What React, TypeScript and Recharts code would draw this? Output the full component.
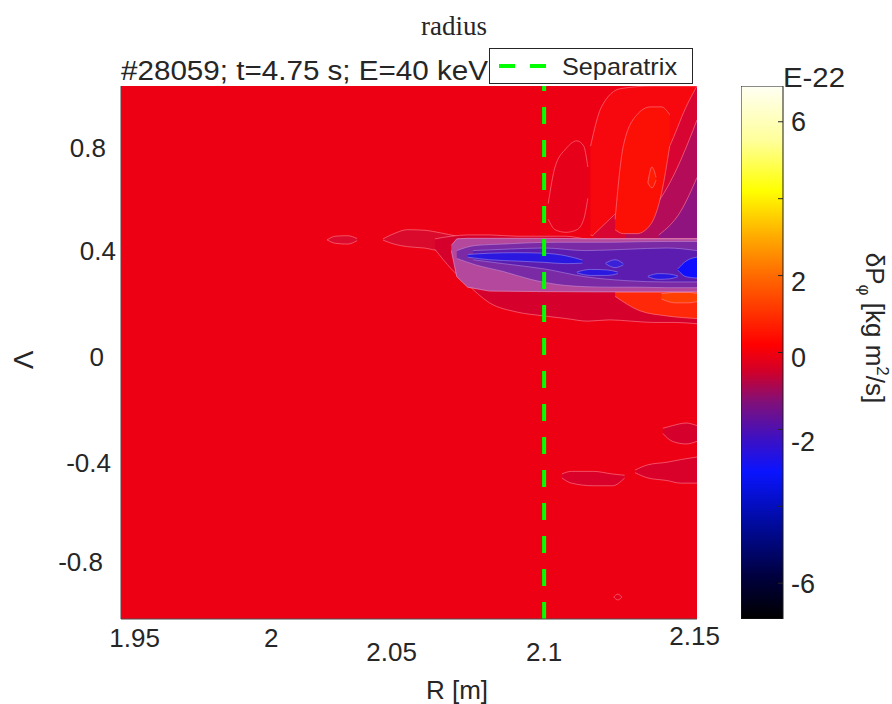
import React from 'react';
import {
  ComposedChart,
  BarChart,
  Area,
  Bar,
  XAxis,
  YAxis,
  CartesianGrid,
  ReferenceLine,
} from 'recharts';

type Pt = { r: number; v: [number, number] };

// axes
const xTicks = [1.95, 2, 2.05, 2.1, 2.15];
const yTicks = [-0.8, -0.4, 0, 0.4, 0.8];
const cbTicks = [-6, -4, -2, 0, 2, 4, 6];
const cbLabels = [-6, -2, 0, 2, 6];
const separatrixR = 2.1;
const cbRange: [number, number] = [-6.93, 6.93];
const colorbarData = [{ name: 'cb', range: cbRange }];

// contour patches, Λ range [lo, hi] along R
const crimsonLobe: Pt[] = [
  { r: 2.1015, v: [0.52, 0.58] },
  { r: 2.104, v: [0.48, 0.72] },
  { r: 2.108, v: [0.47, 0.79] },
  { r: 2.112, v: [0.48, 0.82] },
  { r: 2.1145, v: [0.52, 0.8] },
  { r: 2.116, v: [0.6, 0.72] },
];
const warmRegion: Pt[] = [
  { r: 2.117, v: [0.46, 0.8] },
  { r: 2.121, v: [0.45, 0.95] },
  { r: 2.128, v: [0.45, 1.02] },
  { r: 2.14, v: [0.45, 1.03] },
  { r: 2.156, v: [0.45, 1.03] },
];
const purple1: Pt[] = [
  { r: 2.118, v: [0.445, 0.46] },
  { r: 2.128, v: [0.445, 0.56] },
  { r: 2.138, v: [0.445, 0.66] },
  { r: 2.146, v: [0.445, 0.8] },
  { r: 2.152, v: [0.445, 0.95] },
  { r: 2.156, v: [0.445, 1.03] },
];
const purple2: Pt[] = [
  { r: 2.13, v: [0.445, 0.47] },
  { r: 2.14, v: [0.445, 0.56] },
  { r: 2.148, v: [0.445, 0.7] },
  { r: 2.153, v: [0.445, 0.82] },
  { r: 2.156, v: [0.445, 0.9] },
];
const purple3: Pt[] = [
  { r: 2.142, v: [0.445, 0.46] },
  { r: 2.15, v: [0.445, 0.55] },
  { r: 2.156, v: [0.445, 0.68] },
];
const brightLobe: Pt[] = [
  { r: 2.126, v: [0.48, 0.52] },
  { r: 2.129, v: [0.465, 0.8] },
  { r: 2.134, v: [0.465, 0.92] },
  { r: 2.139, v: [0.5, 0.95] },
  { r: 2.143, v: [0.62, 0.95] },
  { r: 2.146, v: [0.8, 0.92] },
];
const brightCore: Pt[] = [
  { r: 2.138, v: [0.66, 0.66] },
  { r: 2.1395, v: [0.64, 0.72] },
  { r: 2.141, v: [0.67, 0.68] },
];
const smallEllipse: Pt[] = [
  { r: 2.0205, v: [0.441, 0.441] },
  { r: 2.0235, v: [0.428, 0.455] },
  { r: 2.028, v: [0.425, 0.457] },
  { r: 2.0315, v: [0.438, 0.446] },
];
const blobLeft: Pt[] = [
  { r: 2.041, v: [0.44, 0.445] },
  { r: 2.045, v: [0.425, 0.465] },
  { r: 2.05, v: [0.415, 0.48] },
  { r: 2.056, v: [0.41, 0.478] },
  { r: 2.062, v: [0.4, 0.468] },
  { r: 2.068, v: [0.4, 0.455] },
];
const bandOuter: Pt[] = [
  { r: 2.06, v: [0.405, 0.445] },
  { r: 2.066, v: [0.33, 0.455] },
  { r: 2.072, v: [0.27, 0.46] },
  { r: 2.08, v: [0.2, 0.46] },
  { r: 2.09, v: [0.165, 0.455] },
  { r: 2.1, v: [0.15, 0.455] },
  { r: 2.108, v: [0.14, 0.455] },
  { r: 2.116, v: [0.13, 0.445] },
  { r: 2.124, v: [0.135, 0.445] },
  { r: 2.132, v: [0.13, 0.445] },
  { r: 2.14, v: [0.125, 0.445] },
  { r: 2.148, v: [0.125, 0.445] },
  { r: 2.156, v: [0.12, 0.445] },
];
const orangeWash: Pt[] = [
  { r: 2.126, v: [0.225, 0.242] },
  { r: 2.135, v: [0.17, 0.242] },
  { r: 2.145, v: [0.15, 0.242] },
  { r: 2.156, v: [0.14, 0.242] },
];
const orangeCore: Pt[] = [
  { r: 2.143, v: [0.215, 0.235] },
  { r: 2.148, v: [0.2, 0.24] },
  { r: 2.153, v: [0.2, 0.24] },
  { r: 2.156, v: [0.205, 0.235] },
];
const bandHalo: Pt[] = [
  { r: 2.066, v: [0.4, 0.42] },
  { r: 2.068, v: [0.3, 0.445] },
  { r: 2.072, v: [0.26, 0.447] },
  { r: 2.08, v: [0.245, 0.447] },
  { r: 2.1, v: [0.243, 0.447] },
  { r: 2.12, v: [0.242, 0.445] },
  { r: 2.14, v: [0.242, 0.445] },
  { r: 2.156, v: [0.242, 0.445] },
];
const bandPurple: Pt[] = [
  { r: 2.068, v: [0.37, 0.4] },
  { r: 2.075, v: [0.345, 0.42] },
  { r: 2.085, v: [0.32, 0.425] },
  { r: 2.095, v: [0.29, 0.43] },
  { r: 2.105, v: [0.27, 0.432] },
  { r: 2.115, v: [0.262, 0.432] },
  { r: 2.125, v: [0.26, 0.432] },
  { r: 2.135, v: [0.26, 0.434] },
  { r: 2.145, v: [0.258, 0.435] },
  { r: 2.156, v: [0.258, 0.435] },
];
const bandDeep: Pt[] = [
  { r: 2.074, v: [0.365, 0.4] },
  { r: 2.085, v: [0.35, 0.405] },
  { r: 2.1, v: [0.33, 0.41] },
  { r: 2.115, v: [0.3, 0.4] },
  { r: 2.13, v: [0.285, 0.405] },
  { r: 2.145, v: [0.28, 0.41] },
  { r: 2.156, v: [0.28, 0.4] },
];
const blueStreakA: Pt[] = [
  { r: 2.072, v: [0.375, 0.385] },
  { r: 2.08, v: [0.365, 0.39] },
  { r: 2.09, v: [0.36, 0.392] },
  { r: 2.1, v: [0.355, 0.39] },
  { r: 2.108, v: [0.35, 0.38] },
  { r: 2.114, v: [0.352, 0.364] },
];
const blueStreakB: Pt[] = [
  { r: 2.112, v: [0.315, 0.318] },
  { r: 2.117, v: [0.305, 0.328] },
  { r: 2.123, v: [0.305, 0.326] },
  { r: 2.127, v: [0.312, 0.318] },
];
const blueStreakC: Pt[] = [
  { r: 2.138, v: [0.3, 0.302] },
  { r: 2.142, v: [0.29, 0.312] },
  { r: 2.146, v: [0.292, 0.31] },
  { r: 2.149, v: [0.3, 0.303] },
];
const blueMid: Pt[] = [
  { r: 2.1225, v: [0.35, 0.352] },
  { r: 2.126, v: [0.335, 0.365] },
  { r: 2.129, v: [0.345, 0.35] },
];
const blueEdge: Pt[] = [
  { r: 2.149, v: [0.325, 0.33] },
  { r: 2.152, v: [0.3, 0.36] },
  { r: 2.156, v: [0.295, 0.375] },
];
const patchA: Pt[] = [
  { r: 2.1065, v: [-0.47, -0.455] },
  { r: 2.11, v: [-0.49, -0.445] },
  { r: 2.118, v: [-0.5, -0.445] },
  { r: 2.125, v: [-0.5, -0.455] },
  { r: 2.1295, v: [-0.47, -0.46] },
];
const patchB: Pt[] = [
  { r: 2.1333, v: [-0.45, -0.44] },
  { r: 2.138, v: [-0.47, -0.42] },
  { r: 2.145, v: [-0.48, -0.41] },
  { r: 2.15, v: [-0.49, -0.4] },
  { r: 2.156, v: [-0.49, -0.39] },
];
const patchC: Pt[] = [
  { r: 2.1435, v: [-0.3, -0.28] },
  { r: 2.147, v: [-0.33, -0.27] },
  { r: 2.152, v: [-0.34, -0.26] },
  { r: 2.156, v: [-0.33, -0.27] },
];
const diamond: Pt[] = [
  { r: 2.1255, v: [-0.926, -0.926] },
  { r: 2.127, v: [-0.937, -0.915] },
  { r: 2.1285, v: [-0.926, -0.926] },
];

const contour = '#ff8c9c';
const layers = [
  { data: crimsonLobe, fill: '#e6001a', stroke: contour },
  { data: warmRegion, fill: '#f7080e', stroke: contour },
  { data: purple1, fill: '#d80532', stroke: contour },
  { data: purple2, fill: '#b40c58', stroke: contour },
  { data: purple3, fill: '#901480', stroke: contour },
  { data: brightLobe, fill: '#fc1006', stroke: contour },
  { data: brightCore, fill: '#ff1c02', stroke: contour },
  { data: smallEllipse, fill: '#dc0a2c', stroke: contour },
  { data: blobLeft, fill: '#da0a2c', stroke: contour },
  { data: bandOuter, fill: '#d6002c', stroke: contour },
  { data: orangeWash, fill: '#ff2808', stroke: contour },
  { data: orangeCore, fill: '#ff4000', stroke: contour },
  { data: bandHalo, fill: '#b4489c', stroke: '#e6a8d8', curve: 'linear' },
  { data: bandPurple, fill: '#7a2aa4', stroke: '#c890d8' },
  { data: bandDeep, fill: '#5c1cb0', stroke: '#b08ce0' },
  { data: blueStreakA, fill: '#2a18e0', stroke: '#9a90f0' },
  { data: blueStreakB, fill: '#2a18e0', stroke: '#9a90f0' },
  { data: blueStreakC, fill: '#2a18e0', stroke: '#9a90f0' },
  { data: blueMid, fill: '#3a20d8', stroke: '#9a90f0' },
  { data: blueEdge, fill: '#1010ff', stroke: '#9a90f0' },
  { data: patchA, fill: '#d9002a', stroke: contour },
  { data: patchB, fill: '#d9002a', stroke: contour },
  { data: patchC, fill: '#d6002c', stroke: contour },
  { data: diamond, fill: '#e6001e', stroke: contour },
];

// colormap stops (value, colour)
const cmapStops: [number, string][] = [
  [6.93, '#fffff4'],
  [5.5, '#ffff9a'],
  [4.2, '#ffff00'],
  [3.0, '#ffaa00'],
  [2.0, '#ff6a00'],
  [1.0, '#ff3000'],
  [0.2, '#ff0000'],
  [-0.5, '#d0002a'],
  [-1.3, '#80107a'],
  [-2.2, '#4010c0'],
  [-3.1, '#0a14ff'],
  [-4.5, '#000a9a'],
  [-5.8, '#000040'],
  [-6.93, '#000000'],
];

const font = '"Liberation Sans", Arial, sans-serif';
const ink = '#262626';

const xTickDx = [0, 0, -16, 0, 14];
const xTickDy = [0, 0, 14, 14, -2];
const yTickDx = [-18, -10, -17, -5, -15];
const yTickDy = [-3, 3, 1, 0, 1];
const cbLabelDy = [0, 12, 5, 6, 0];

const XTick = (props: any) => {
  const { x, y, payload, index } = props;
  return (
    <text x={x + (xTickDx[index] || 0)} y={y + 28 + (xTickDy[index] || 0)} textAnchor="middle"
      fontFamily={font} fontSize={26} fill={ink}>
      {String(payload.value)}
    </text>
  );
};

const YTick = (props: any) => {
  const { x, y, payload, index } = props;
  return (
    <text x={x + (yTickDx[index] || 0)} y={y + 9.5 + (yTickDy[index] || 0)} textAnchor="end"
      fontFamily={font} fontSize={26} fill={ink}>
      {String(payload.value)}
    </text>
  );
};

const CbTick = (props: any) => {
  const { x, y, payload } = props;
  const i = cbLabels.indexOf(payload.value);
  return (
    <g>
      <line x1={x - 5} x2={x} y1={y} y2={y} stroke={ink} strokeWidth={1} />
      {i >= 0 && (
        <text x={x + 8} y={y + 9.5 + cbLabelDy[i]} fontFamily={font} fontSize={27} fill={ink}>
          {String(payload.value)}
        </text>
      )}
    </g>
  );
};

export default function App() {
  const span = cbRange[1] - cbRange[0];
  return (
    <div style={{ position: 'absolute', left: 0, top: 0, width: 892, height: 704, background: '#fff' }}>
      <div style={{ position: 'absolute', left: 0, top: 0 }}>
        <ComposedChart width={892} height={704} margin={{ top: 86, right: 195, bottom: 55, left: 61 }}>
          <CartesianGrid horizontal={false} vertical={false} fill="#ee0014" fillOpacity={1} />
          <XAxis type="number" dataKey="r" domain={[1.945, 2.156]} allowDataOverflow ticks={xTicks}
            tick={<XTick />} tickSize={0} tickMargin={0} axisLine={{ stroke: '#4d4d4d' }} height={30} />
          <YAxis type="number" domain={[-1.01, 1.03]} allowDataOverflow ticks={yTicks}
            tick={<YTick />} tickSize={0} tickMargin={0} axisLine={{ stroke: '#4d4d4d' }} width={60} />
          {layers.map((l, i) => (
            <Area key={i} data={l.data} dataKey="v" type={(l.curve as any) || 'monotone'}
              fill={l.fill} fillOpacity={1} stroke={l.stroke} strokeWidth={0.8} strokeOpacity={0.7}
              dot={false} activeDot={false} isAnimationActive={false} />
          ))}
          <ReferenceLine x={separatrixR} stroke="#00ff00" strokeWidth={4} strokeDasharray="17 16" />
        </ComposedChart>
      </div>

      <div style={{ position: 'absolute', left: 741, top: 0 }}>
        <BarChart width={151} height={704} data={colorbarData} barCategoryGap={0}
          margin={{ top: 86, right: 49, bottom: 85, left: 0 }}>
          <defs>
            <linearGradient id="cmap" x1="0" y1="0" x2="0" y2="1">
              {cmapStops.map(([v, c], i) => (
                <stop key={i} offset={(cbRange[1] - v) / span} stopColor={c} />
              ))}
            </linearGradient>
          </defs>
          <XAxis dataKey="name" hide />
          <YAxis orientation="right" type="number" domain={cbRange} allowDataOverflow ticks={cbTicks}
            tick={<CbTick />} tickSize={0} tickMargin={0} axisLine={false} width={60} />
          <Bar dataKey="range" fill="url(#cmap)" stroke="#1a1a1a" strokeWidth={1} isAnimationActive={false} />
        </BarChart>
      </div>

      <svg width={892} height={704} style={{ position: 'absolute', left: 0, top: 0, pointerEvents: 'none' }}>
        <text x={454} y={35} textAnchor="middle" fontFamily='"Liberation Serif", serif' fontSize={27} fill={ink}>
          radius
        </text>
        <text x={121} y={80} fontFamily={font} fontSize={27} fill={ink} textLength={367} lengthAdjust="spacingAndGlyphs">
          #28059; t=4.75 s; E=40 keV
        </text>
        <rect x={489.5} y={48.5} width={203} height={35} fill="#fff" stroke={ink} strokeWidth={1} />
        <line x1={499} x2={547} y1={66} y2={66} stroke="#00ff00" strokeWidth={4} strokeDasharray="16 15" />
        <text x={562} y={75} fontFamily={font} fontSize={24} fill={ink} textLength={115} lengthAdjust="spacingAndGlyphs">
          Separatrix
        </text>
        <text x={783} y={87} fontFamily={font} fontSize={27} fill={ink} textLength={62} lengthAdjust="spacingAndGlyphs">
          E-22
        </text>
        <text transform="translate(33,360) rotate(-90)" textAnchor="middle" fontFamily={font} fontSize={28} fill={ink}>
          Λ
        </text>
        <text x={457} y={699} textAnchor="middle" fontFamily={font} fontSize={26} fill={ink}>
          R [m]
        </text>
        <text transform="translate(866,328) rotate(90)" textAnchor="middle" fontFamily={font} fontSize={26} fill={ink}>
          δP
          <tspan fontSize={17} dy={7}>φ</tspan>
          <tspan dy={-7}> [kg m</tspan>
          <tspan fontSize={17} dy={-11}>2</tspan>
          <tspan dy={11}>/s]</tspan>
        </text>
      </svg>
    </div>
  );
}
